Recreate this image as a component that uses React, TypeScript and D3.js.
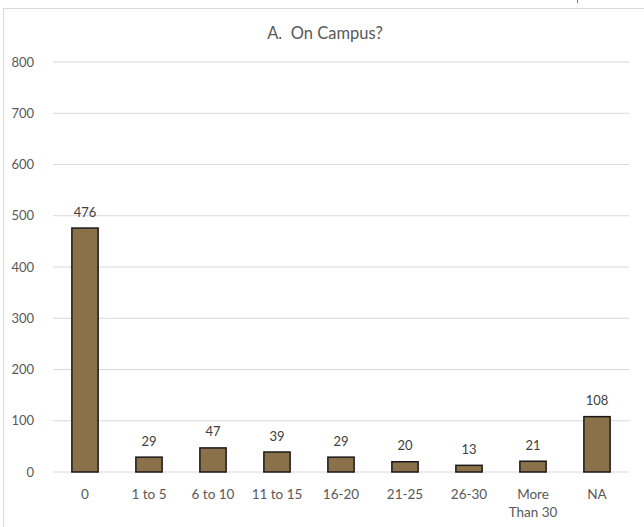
import React from "react";
import * as d3 from "d3";

const categories = ["0", "1 to 5", "6 to 10", "11 to 15", "16-20", "21-25", "26-30", "More\nThan 30", "NA"];
const values = [476, 29, 47, 39, 29, 20, 13, 21, 108];
const yTicks = [0, 100, 200, 300, 400, 500, 600, 700, 800];
const title = "A.  On Campus?";

export default function App() {
  const W = 644, H = 527;
  const left = 53, right = 629, top = 62, bottom = 472;
  const x = d3.scaleBand<string>().domain(categories).range([left, right]).paddingInner(0.59).paddingOuter(0.295);
  const y = d3.scaleLinear().domain([0, 800]).range([bottom, top]);
  const font = "Lato, 'Open Sans', sans-serif";
  return (
    <svg width={W} height={H} style={{ position: "absolute", left: 0, top: 0 }} fontFamily={font}>
      <rect x={0} y={0} width={W} height={H} fill="#fff" />
      <rect x={3.5} y={8.5} width={700} height={600} fill="none" stroke="#d9d9d9" />
      <line x1={577.5} x2={577.5} y1={0} y2={3} stroke="#7f7f7f" strokeWidth={1} />
      <text x={325} y={39} textAnchor="middle" fontSize={16.5} fill="#595959" style={{ whiteSpace: "pre" }}>{title}</text>
      {yTicks.map(t => (
        <g key={t}>
          <line x1={left} x2={right} y1={y(t)} y2={y(t)} stroke="#d9d9d9" strokeWidth={1} />
          <text x={34} y={y(t)} dy="0.35em" textAnchor="end" fontSize={13} fill="#595959">{t}</text>
        </g>
      ))}
      {categories.map((c, i) => {
        const cx = x(c)! + x.bandwidth() / 2;
        const lines = c.split("\n");
        return (
          <g key={c}>
            <rect x={x(c)!} y={y(values[i])} width={x.bandwidth()} height={y(0) - y(values[i])}
              fill="#8b7149" stroke="#1a1a1a" strokeWidth={1.5} />
            <text x={cx} y={y(values[i]) - 16} dy="0.35em" textAnchor="middle" fontSize={13} fill="#404040">{values[i]}</text>
            {lines.map((l, k) => (
              <text key={k} x={cx} y={494 + k * 18} dy="0.35em" textAnchor="middle" fontSize={13.5} fill="#595959">{l}</text>
            ))}
          </g>
        );
      })}
    </svg>
  );
}
